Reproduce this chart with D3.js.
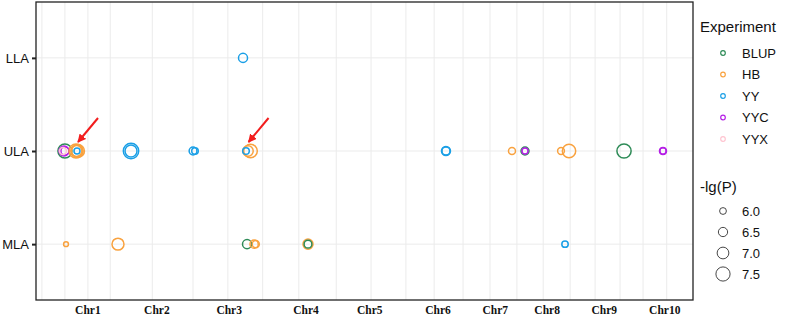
<!DOCTYPE html>
<html><head><meta charset="utf-8">
<script src="https://cdn.jsdelivr.net/npm/d3@7"></script>
<style>body{margin:0;background:#fff}svg{display:block}</style>
</head><body>
<svg id="c" width="796" height="316"></svg>
<script>
// ---- data ----
const traits = ["LLA", "ULA", "MLA"];
const experiments = ["BLUP", "HB", "YY", "YYC", "YYX"];
const expColors = ["#2E8B57", "#F9A23F", "#1A9FE6", "#B51FE6", "#FFC4D0"];
const chrLabels = ["Chr1","Chr2","Chr3","Chr4","Chr5","Chr6","Chr7","Chr8","Chr9","Chr10"];
const chrLabelPos = [79, 184, 294, 411, 508, 612, 699, 778, 865, 957];
const gridPos = [9, 44, 79, 113, 177, 239, 292, 345, 400, 457, 510, 563, 606, 650, 691, 732, 772, 813, 851, 889, 924, 960];
const sizeBreaks = [6.0, 6.5, 7.0, 7.5];
// [trait, experiment, position, -lg(P)]
const points = [
  ["ULA","BLUP",44,7.46],["ULA","YYC",42.6,6.65],["ULA","YYC",44,6.24],["ULA","YYX",41,6.04],
  ["ULA","HB",60.9,7.46],["ULA","HB",63.9,7.25],["ULA","HB",62.4,7.05],["ULA","HB",61.5,6.85],["ULA","YY",62.4,5.84],
  ["ULA","YY",144.6,7.74],["ULA","YY",144.6,7.05],
  ["ULA","YY",239,6.2],["ULA","YY",242,5.95],
  ["ULA","HB",326.5,7.38],["ULA","HB",322.7,6.73],["ULA","YY",319.6,5.96],
  ["ULA","YY",624,6.45],["ULA","YY",624,6.24],
  ["ULA","HB",724.5,6.04],
  ["ULA","BLUP",744.3,6.24],["ULA","YYC",744.3,5.84],
  ["ULA","HB",799.1,6.0],["ULA","HB",811.3,7.33],
  ["ULA","BLUP",895,7.5],
  ["ULA","YYC",954.3,6.04],["ULA","YYC",954.3,5.9],
  ["LLA","YY",315.1,6.45],
  ["MLA","HB",45.7,5.6],["MLA","HB",124.8,7.05],
  ["MLA","BLUP",321.2,6.45],["MLA","HB",332,6.3],["MLA","HB",334.5,6.05],
  ["MLA","HB",414,6.65],["MLA","BLUP",414,6.2],
  ["MLA","YY",805.2,5.92]
];
// arrow annotations: [trait, position]
const arrowTargets = [["ULA", 62.4], ["ULA", 322]];

// ---- layout ----
const svg = d3.select("#c");
const P = {l: 36, r: 693, t: 2, b: 300};
const x = d3.scaleLinear().domain([0, 1000]).range([P.l, P.r]);
const y = d3.scalePoint().domain(traits).range([P.t, P.b]).padding(0.6);
const rScale = d3.scaleLinear().domain([6.0, 7.5]).range([3.4, 7.1]);
const color = d3.scaleOrdinal().domain(experiments).range(expColors);

const defs = svg.append("defs");
defs.append("marker").attr("id","ah").attr("viewBox","0 0 10 10").attr("refX",9).attr("refY",5)
  .attr("markerWidth",4.2).attr("markerHeight",4.2).attr("orient","auto")
  .append("path").attr("d","M0,0L10,5L0,10z").attr("fill","#F21D1D");

// grid
svg.append("g").selectAll("line").data(gridPos).join("line")
  .attr("x1", d => x(d)).attr("x2", d => x(d)).attr("y1", P.t).attr("y2", P.b)
  .attr("stroke", "#EBEBEB").attr("stroke-width", 1);
svg.append("g").selectAll("line").data(traits).join("line")
  .attr("x1", P.l).attr("x2", P.r).attr("y1", d => y(d)).attr("y2", d => y(d))
  .attr("stroke", "#EBEBEB").attr("stroke-width", 1);

// points
svg.append("g").selectAll("circle").data(points).join("circle")
  .attr("cx", d => x(d[2])).attr("cy", d => y(d[0])).attr("r", d => rScale(d[3]))
  .attr("fill", "none").attr("stroke", d => color(d[1])).attr("stroke-width", 1.5);

// arrows
svg.append("g").selectAll("line").data(arrowTargets).join("line")
  .attr("x1", d => x(d[1]) + 21).attr("y1", d => y(d[0]) - 33)
  .attr("x2", d => x(d[1]) + 1).attr("y2", d => y(d[0]) - 9)
  .attr("stroke", "#F21D1D").attr("stroke-width", 2).attr("marker-end", "url(#ah)");

// panel border
svg.append("rect").attr("x", P.l).attr("y", P.t).attr("width", P.r - P.l).attr("height", P.b - P.t)
  .attr("fill", "none").attr("stroke", "#222").attr("stroke-width", 1.3);

// y axis
const yAxis = d3.axisLeft(y).tickSize(4).tickPadding(3);
const gy = svg.append("g").attr("transform", `translate(${P.l},0)`).call(yAxis);
gy.select(".domain").remove();
gy.selectAll(".tick line").attr("stroke", "#222").attr("stroke-width", 2);
gy.selectAll(".tick text").attr("font-family", "Liberation Sans, Arial, sans-serif")
  .attr("font-size", 13).attr("fill", "#111");

// x labels
svg.append("g").selectAll("text").data(chrLabels).join("text")
  .attr("x", (d, i) => x(chrLabelPos[i])).attr("y", 314)
  .attr("text-anchor", "middle").attr("font-family", "Liberation Serif, Times New Roman, serif")
  .attr("font-weight", "bold").attr("font-size", 11.5).attr("fill", "#111").text(d => d);

// legend: experiment
const lg = svg.append("g").attr("font-family", "Liberation Sans, Arial, sans-serif").attr("fill", "#111");
lg.append("text").attr("x", 700).attr("y", 32).attr("font-size", 15).text("Experiment");
const li = lg.selectAll("g.e").data(experiments).join("g").attr("class", "e")
  .attr("transform", (d, i) => `translate(0,${53 + i * 21.5})`);
li.append("circle").attr("cx", 723).attr("cy", 0).attr("r", 2.3).attr("fill", "none")
  .attr("stroke", d => color(d)).attr("stroke-width", 1.2);
li.append("text").attr("x", 742).attr("y", 4.5).attr("font-size", 13).text(d => d);

// legend: size
lg.append("text").attr("x", 700).attr("y", 192).attr("font-size", 15).text("-lg(P)");
const si = lg.selectAll("g.s").data(sizeBreaks).join("g").attr("class", "s")
  .attr("transform", (d, i) => `translate(0,${211 + i * 21})`);
si.append("circle").attr("cx", 723).attr("cy", 0).attr("r", d => rScale(d)).attr("fill", "none")
  .attr("stroke", "#333").attr("stroke-width", 0.9);
si.append("text").attr("x", 742).attr("y", 4.5).attr("font-size", 13).text(d => d3.format(".1f")(d));
</script>
</body></html>
